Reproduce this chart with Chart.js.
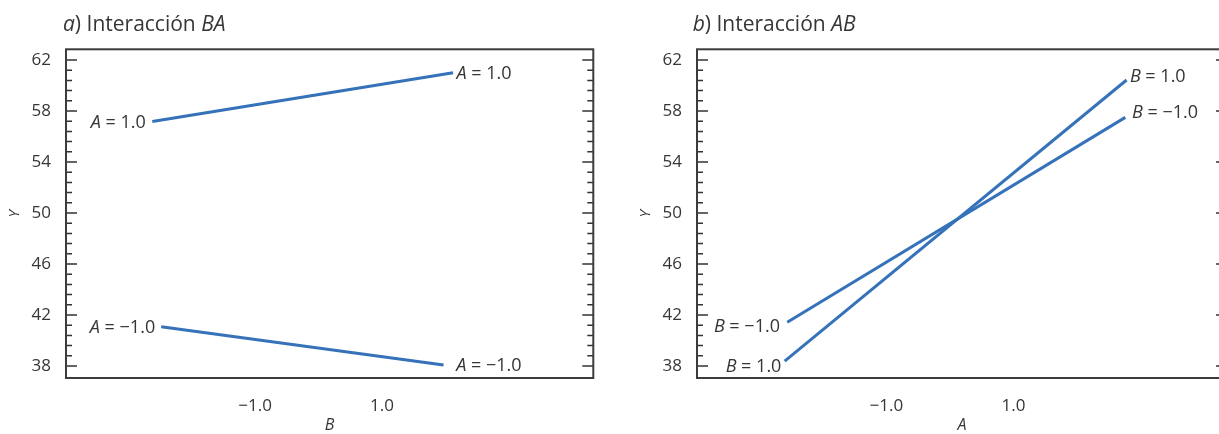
<!DOCTYPE html>
<html><head><meta charset="utf-8">
<script src="https://cdn.jsdelivr.net/npm/chart.js@4.4.1/dist/chart.umd.min.js"></script>
<style>
html,body{margin:0;padding:0;background:#fff;overflow:hidden;width:1219px;height:434px;}
.wrap{position:absolute;top:0;height:434px;width:610px;}
#w1{left:0px} #w2{left:631px}
</style></head><body>
<div class="wrap" id="w1"><canvas id="c1" width="610" height="434"></canvas></div>
<div class="wrap" id="w2"><canvas id="c2" width="610" height="434"></canvas></div>
<script>
// ---------- data ----------
const yTicks = [38, 42, 46, 50, 54, 58, 62];
const yMinorPerMajor = 5;
const xTicks = [-1, 1];
const xTickLabels = ['\u22121.0', '1.0'];

// panel a) Interacción BA  (x = B, lines for A)
const aLetter = 'A';
const aNames = ['1.0', '\u22121.0'];
const aX_A1  = [-2.62, 2.12];
const aY_A1  = [57.17, 61.0];
const aX_Am1 = [-2.48, 1.97];
const aY_Am1 = [41.08, 38.08];

// panel b) Interacción AB  (x = A, lines for B)
const bLetter = 'B';
const bNames = ['1.0', '\u22121.0'];
const bX_B1  = [-2.60, 2.78];
const bY_B1  = [38.39, 60.43];
const bX_Bm1 = [-2.56, 2.76];
const bY_Bm1 = [41.43, 57.5];

// ---------- style ----------
const FONT = '"Open Sans", "DejaVu Sans", sans-serif';
const TXT = '#363636';
const LINE = '#3572b9';

function drawSegs(ctx, segs, x, y, size, align) {
  const fontOf = s => (s.i ? 'italic ' : '') + size + 'px ' + FONT;
  let w = 0;
  segs.forEach(s => { ctx.font = fontOf(s); w += ctx.measureText(s.t).width; });
  let cx = align === 'right' ? x - w : x;
  ctx.textAlign = 'left';
  ctx.textBaseline = 'alphabetic';
  ctx.fillStyle = TXT;
  segs.forEach(s => { ctx.font = fontOf(s); ctx.fillText(s.t, cx, y); cx += ctx.measureText(s.t).width; });
}

const decor = {
  id: 'decor',
  afterDraw(chart, args, opts) {
    const ctx = chart.ctx, ca = chart.chartArea, y = chart.scales.y;
    ctx.save();
    ctx.strokeStyle = '#333';
    ctx.lineWidth = 1.5;
    const tick = (v, len) => {
      const py = y.getPixelForValue(v);
      ctx.beginPath();
      ctx.moveTo(ca.left, py); ctx.lineTo(ca.left + len, py);
      ctx.moveTo(ca.right, py); ctx.lineTo(ca.right - len, py);
      ctx.stroke();
    };
    yTicks.forEach(v => tick(v, 11));
    for (let k = 0; k < yTicks.length - 1; k++) {
      for (let m = 1; m < yMinorPerMajor; m++) {
        tick(yTicks[k] + (yTicks[k + 1] - yTicks[k]) * m / yMinorPerMajor, 6);
      }
    }
    ctx.lineWidth = 2;
    ctx.strokeStyle = '#3c3c3c';
    ctx.strokeRect(ca.left, ca.top, ca.right - ca.left, ca.bottom - ca.top);

    // line end labels
    const size = 18;
    chart.data.datasets.forEach((ds, i) => {
      const pts = chart.getDatasetMeta(i).data;
      const st = opts.labelStyle[i];
      const segs = [{ t: ds.letter, i: true }, { t: ' = ' + ds.name, i: false }];
      const p0 = pts[0], p1 = pts[pts.length - 1];
      drawSegs(ctx, segs, p0.x + st.left[0], p0.y + 0.36 * size + st.left[1], size, 'right');
      drawSegs(ctx, segs, p1.x + st.right[0], p1.y + 0.36 * size + st.right[1], size, 'left');
    });

    // panel title
    drawSegs(ctx, opts.title, opts.titleX, 30.7, 21, 'left');
    ctx.restore();
  }
};

function makeChart(id, letter, names, xs, ys, xTitle, title, titleX, labelStyle, padRight, xMax) {
  return new Chart(document.getElementById(id), {
    type: 'line',
    data: {
      datasets: names.map((n, i) => ({
        letter: letter, name: n,
        data: xs[i].map((xv, j) => ({ x: xv, y: ys[i][j] })),
        borderColor: LINE, borderWidth: 3, pointRadius: 0, fill: false, tension: 0
      }))
    },
    options: {
      responsive: false, animation: false, devicePixelRatio: 1,
      layout: { padding: { top: 49.3, right: padRight, left: 0, bottom: 0 } },
      plugins: {
        legend: { display: false }, tooltip: { enabled: false },
        decor: { title: title, titleX: titleX, labelStyle: labelStyle }
      },
      scales: {
        x: {
          type: 'linear', min: -3.98, max: xMax, position: 'bottom',
          grid: { display: false }, border: { display: false },
          afterBuildTicks: s => { s.ticks = xTicks.map(v => ({ value: v })); },
          afterFit: s => { s.height = 56; },
          ticks: {
            color: TXT, font: { family: FONT, size: 17 }, padding: 10, maxRotation: 0,
            autoSkip: false,
            callback: v => { const k = xTicks.indexOf(v); return k >= 0 ? xTickLabels[k] : ''; }
          },
          title: { display: true, text: xTitle, color: TXT,
                   font: { family: FONT, size: 16, style: 'italic', lineHeight: 1.1 },
                   padding: { top: 0, bottom: 0 } }
        },
        y: {
          type: 'linear', min: 37.06, max: 62.84,
          grid: { display: false }, border: { display: false },
          afterBuildTicks: s => { s.ticks = yTicks.map(v => ({ value: v })); },
          afterFit: s => { s.width = 66; },
          ticks: { color: TXT, font: { family: FONT, size: 17 }, padding: 7, autoSkip: false,
                   callback: v => String(v) },
          title: { display: true, text: 'Y', color: TXT,
                   font: { family: FONT, size: 15, style: 'italic' },
                   padding: { top: 6, bottom: 0 } }
        }
      }
    },
    plugins: [decor]
  });
}

makeChart('c1', aLetter, aNames, [aX_A1, aX_Am1], [aY_A1, aY_Am1], 'B',
  [{ t: 'a', i: true }, { t: ') Interacción ', i: false }, { t: 'BA', i: true }], 63,
  [{ left: [-6.5, 0], right: [3.5, 0] }, { left: [-6, 0], right: [12.7, 0] }], 16.7, 4.33);

makeChart('c2', bLetter, bNames, [bX_B1, bX_Bm1], [bY_B1, bY_Bm1], 'A',
  [{ t: 'b', i: true }, { t: ') Interacción ', i: false }, { t: 'AB', i: true }], 61.7,
  [{ left: [-3.3, 4.3], right: [3.3, -5] }, { left: [-7.3, 3.7], right: [6.7, -6.3] }], 14, 4.36);
</script></body></html>
